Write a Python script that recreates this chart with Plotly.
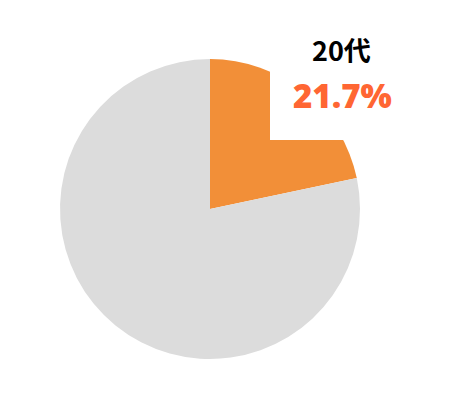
import plotly.graph_objects as go

labels = ["20代", "その他"]
values = [21.7, 78.3]
colors = ["#F28F38", "#DCDCDC"]
label_text = "20代"
pct_text = "21.7%"

W, H = 460, 400
cx, cy, r = 202, 201, 150

fig = go.Figure(go.Pie(
    labels=labels, values=values, sort=False, direction="clockwise", rotation=0,
    marker=dict(colors=colors, line=dict(width=0)),
    textinfo="none", hoverinfo="none",
    domain=dict(x=[(cx - r) / W, (cx + r) / W], y=[(H - cy - r) / H, (H - cy + r) / H]),
))

fig.add_shape(type="rect", xref="paper", yref="paper",
              x0=262 / W, x1=1.0, y0=(H - 132) / H, y1=1.0,
              fillcolor="white", line=dict(width=0), layer="above")

fig.add_annotation(text=label_text, xref="paper", yref="paper",
                   x=333 / W, y=(H - 41) / H, showarrow=False,
                   font=dict(family="Noto Sans CJK JP", size=27, color="#000000", weight=700),
                   xanchor="center", yanchor="middle")
fig.add_annotation(text=pct_text, xref="paper", yref="paper",
                   x=334 / W, y=(H - 88) / H, showarrow=False,
                   font=dict(family="Open Sans", size=33, color="#FF6633", weight=800),
                   xanchor="center", yanchor="middle")

fig.update_layout(width=W, height=H, margin=dict(l=0, r=0, t=0, b=0),
                  showlegend=False, paper_bgcolor="white", plot_bgcolor="white")

fig.write_html("out.html")
